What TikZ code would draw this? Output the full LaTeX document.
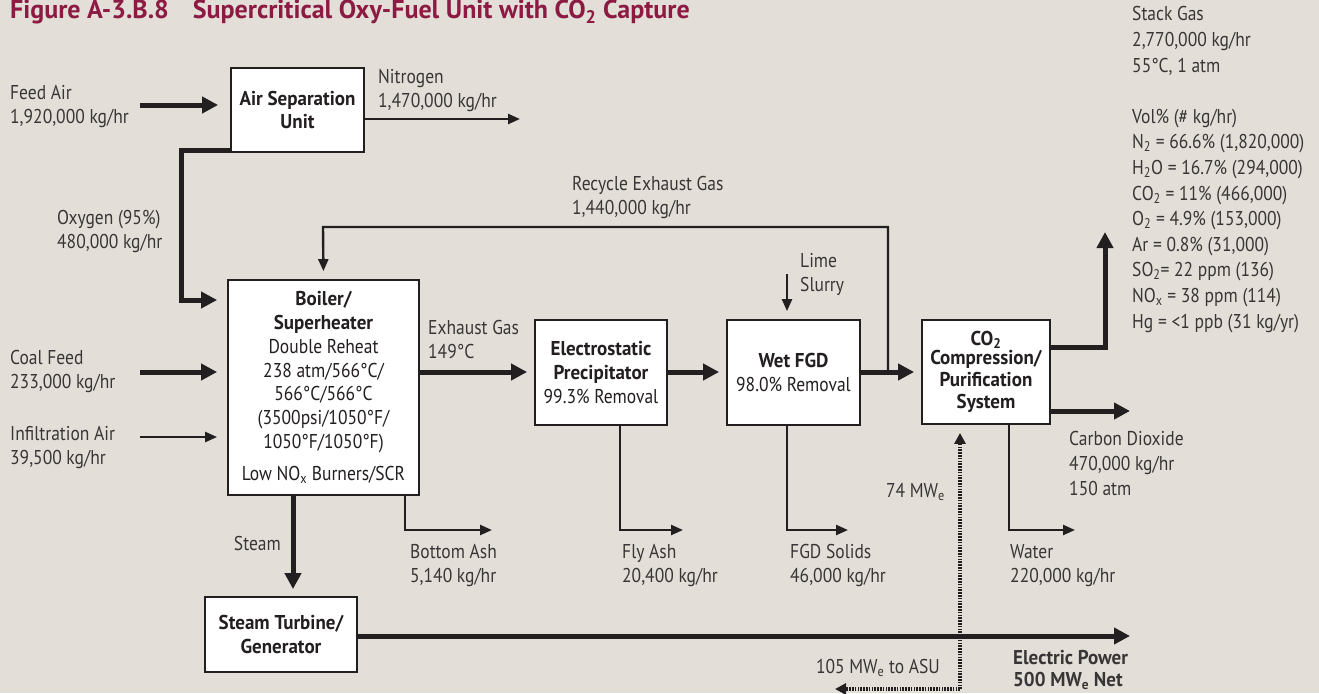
\documentclass[tikz,border=0pt]{standalone}
\usepackage{fontspec}
\setmainfont{PT Sans}[FakeStretch=0.875, BoldFeatures={FakeStretch=0.95}]
\newfontfamily\titlefont{PT Sans}[FakeStretch=1.0]
\usetikzlibrary{arrows.meta}
\definecolor{bg}{HTML}{E3DFD8}
\definecolor{titlered}{HTML}{8C1A43}
\definecolor{ink}{HTML}{231F20}
\tikzset{
  lbl/.style={font=\fontsize{20}{24}\selectfont, inner sep=0pt, align=left, anchor=base west, text=ink!90},
  unitbox/.style={draw=ink, line width=1.8pt, fill=white, inner sep=0pt, align=center, text=ink, font=\fontsize{20}{23.8}\selectfont},
  heavyflow/.style={draw=ink, line width=5pt, -{Triangle[length=16pt,width=16pt]}},
  lightflow/.style={draw=ink, line width=2.4pt, -{Triangle[length=12pt,width=10pt]}},
  powerflow/.style={draw=ink, line width=3.2pt, dash pattern=on 1.6pt off 1.2pt, -{Triangle[length=11pt,width=11pt]}},
}
\begin{document}
\begin{tikzpicture}[x=1pt,y=-1pt]
\fill[bg] (0,0) rectangle (1319,693);
\useasboundingbox (0,0) rectangle (1319,693);

% title
\node[anchor=base west, inner sep=0pt, font=\titlefont\bfseries\fontsize{26}{26}\selectfont, text=titlered] (title) at (10,19)
  {Figure A-3.B.8\hspace{24pt}Supercritical Oxy-Fuel Unit with CO\textsubscript{2} Capture};

% boxes
\node[unitbox, minimum width=133pt, minimum height=84pt] (asu) at (297.5,110) {\bfseries Air Separation\\\bfseries Unit};
\node[unitbox, minimum width=191pt, minimum height=215pt] (boiler) at (323.5,387.5)
  {\bfseries Boiler/\\\bfseries Superheater\\Double Reheat\\238 atm/566°C/\\566°C/566°C\\(3500psi/1050°F/\\1050°F/1050°F)\\[8pt]Low NO\textsubscript{x} Burners/SCR};
\node[unitbox, minimum width=132pt, minimum height=105pt] (esp) at (601,372.5) {\bfseries Electrostatic\\\bfseries Precipitator\\99.3\% Removal};
\node[unitbox, minimum width=133pt, minimum height=105pt] (fgd) at (793.5,372.5) {\bfseries Wet FGD\\98.0\% Removal};
\node[unitbox, minimum width=128pt, minimum height=104pt, font=\bfseries\fontsize{20}{22}\selectfont] (co2) at (986,372) {\raisebox{-3pt}{CO\textsubscript{2}}\\Compression/\\Purification\\System};
\node[unitbox, minimum width=152pt, minimum height=75pt] (stg) at (281,634.5) {\bfseries Steam Turbine/\\\bfseries Generator};

% free ends
\coordinate (feedin) at (140,105);
\coordinate (n2out) at (520,119);
\coordinate (o2a) at (181,150);
\coordinate (o2b) at (181,300);
\coordinate (rc1) at (888,372);
\coordinate (rc2) at (888,227);
\coordinate (rc3) at (323,227);
\coordinate (coalin) at (140,372);
\coordinate (infin) at (140,437);
\coordinate (limein) at (787,274);
\coordinate (stk1) at (1105,347);
\coordinate (stk2) at (1105,232);
\coordinate (co2out) at (1130,411);
\coordinate (wat1) at (1009,530);
\coordinate (wat2) at (1075,530);
\coordinate (sol1) at (787,530);
\coordinate (sol2) at (848,530);
\coordinate (fly1) at (620,530);
\coordinate (fly2) at (683,530);
\coordinate (bot1) at (405,530);
\coordinate (bot2) at (492,530);
\coordinate (pwrout) at (1130,636);
\coordinate (dot1) at (960,689);
\coordinate (dot2) at (835,689);

% connectors
\draw[heavyflow, shorten >=12pt] (feedin) -- (feedin -| asu.west);
\draw[lightflow] (asu.east |- n2out) -- (n2out);
\draw[heavyflow, shorten >=10pt] (asu.west |- o2a) -- (o2a) -- (o2b) -- (o2b -| boiler.west);
\draw[lightflow, shorten >=8pt] (rc1) -- (rc2) -- (rc3) -- (boiler.north);
\draw[heavyflow, shorten >=10pt] (coalin) -- (coalin -| boiler.west);
\draw[lightflow, shorten >=10pt] (infin) -- (infin -| boiler.west);
\draw[heavyflow, shorten >=7pt] (boiler.east |- coalin) -- (esp.west |- coalin);
\draw[heavyflow, shorten >=7pt] (esp.east |- coalin) -- (fgd.west |- coalin);
\draw[heavyflow, shorten >=7pt] (fgd.east |- coalin) -- (co2.west |- coalin);
\draw[lightflow, shorten >=8pt] (limein) -- (limein |- fgd.north);
\draw[heavyflow] (co2.east |- stk1) -- (stk1) -- (stk2);
\draw[heavyflow] (co2.east |- co2out) -- (co2out);
\draw[lightflow] (wat1 |- co2.south) -- (wat1) -- (wat2);
\draw[lightflow] (sol1 |- fgd.south) -- (sol1) -- (sol2);
\draw[lightflow] (fly1 |- esp.south) -- (fly1) -- (fly2);
\draw[lightflow] (bot1 |- boiler.south) -- (bot1) -- (bot2);
\draw[heavyflow, shorten >=7pt] (boiler.south -| 293,0) -- (stg.north -| 293,0);
\draw[heavyflow] (stg.east |- pwrout) -- (pwrout);
\draw[powerflow, shorten >=8pt] (dot1) -- (dot1 |- co2.south);
\draw[powerflow] (dot1) -- (dot2);

% labels (anchored at the baseline of their last line)
\node[lbl] (lfeed) at (10,123) {Feed Air\\1,920,000 kg/hr};
\node[lbl] (ln2) at (378,107) {Nitrogen\\1,470,000 kg/hr};
\node[lbl] (lo2) at (57,248) {Oxygen (95\%)\\480,000 kg/hr};
\node[lbl] (lrc) at (572,214) {Recycle Exhaust Gas\\1,440,000 kg/hr};
\node[lbl] (lcoal) at (10,388) {Coal Feed\\233,000 kg/hr};
\node[lbl] (linf) at (10,464) {Infiltration Air\\39,500 kg/hr};
\node[lbl] (lexh) at (428,358) {Exhaust Gas\\149°C};
\node[lbl] (llime) at (800,291) {Lime\\Slurry};
\node[lbl] (lbot) at (410,582) {Bottom Ash\\5,140 kg/hr};
\node[lbl] (lfly) at (622,582) {Fly Ash\\20,400 kg/hr};
\node[lbl] (lsol) at (790,582) {FGD Solids\\46,000 kg/hr};
\node[lbl] (lwat) at (1010,582) {Water\\220,000 kg/hr};
\node[lbl, anchor=base east] (lsteam) at (281,550) {Steam};
\node[lbl, font=\fontsize{20}{25}\selectfont] (lco2) at (1069,495) {Carbon Dioxide\\470,000 kg/hr\\150 atm};
\node[lbl, anchor=base east] (l74) at (945,497) {74 MW\textsubscript{e}};
\node[lbl, anchor=base east] (l105) at (940,673) {105 MW\textsubscript{e} to ASU};
\node[lbl, font=\bfseries\fontsize{20}{22}\selectfont] (lpwr) at (1013,686) {Electric Power\\500 MW\textsubscript{e} Net};
\node[lbl, font=\fontsize{20}{25.6}\selectfont] (lstack) at (1132,328)
  {Stack Gas\\2,770,000 kg/hr\\55°C, 1 atm\\[25.6pt]Vol\% (\# kg/hr)\\N\textsubscript{2} = 66.6\% (1,820,000)\\H\textsubscript{2}O = 16.7\% (294,000)\\CO\textsubscript{2} = 11\% (466,000)\\O\textsubscript{2} = 4.9\% (153,000)\\Ar = 0.8\% (31,000)\\SO\textsubscript{2}= 22 ppm (136)\\NO\textsubscript{x} = 38 ppm (114)\\Hg = <1 ppb (31 kg/yr)};
\end{tikzpicture}
\end{document}
